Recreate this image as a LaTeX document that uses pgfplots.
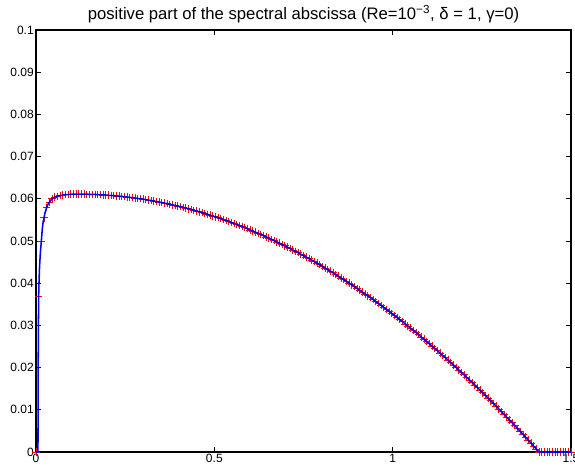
\documentclass[border=0pt]{standalone}
\usepackage{fontspec}
\setmainfont{Liberation Sans}
\usepackage{pgfplots}
\usepackage{pgfplotstable}
\pgfplotsset{compat=1.18}

% red markers near the start (step 0.0075)
\pgfplotstableread{
x y
0 0
0.0075 0.037
0.015 0.050
0.0225 0.0555
0.03 0.058
0.0375 0.0592
0.045 0.0600
0.0525 0.0604
0.06 0.0606
0.0675 0.0608
0.075 0.0609
0.0825 0.0610
0.09 0.0610
0.0975 0.0611
0.105 0.0611
0.1125 0.0611
}\starttab

% blue curve near the start (finer)
\pgfplotstableread{
x y
0 0
0.0055 0
0.006 0.018
0.0065 0.026
0.007 0.032
0.0075 0.037
0.0085 0.0405
0.01 0.044
0.0125 0.0475
0.015 0.050
0.0175 0.0527
0.02 0.0545
0.0225 0.0555
0.025 0.0566
0.03 0.058
0.035 0.0589
0.04 0.0595
0.045 0.0600
0.05 0.0603
0.06 0.0606
0.07 0.0608
0.08 0.0610
0.09 0.0610
0.1 0.0611
0.11 0.0611
0.12 0.0611
}\bluestart

% rest of the curve (step 0.0075)
\pgfplotstableread{
x y
0.12 0.06110
0.1275 0.06110
0.135 0.06109
0.1425 0.06108
0.15 0.06107
0.1575 0.06105
0.165 0.06103
0.1725 0.06100
0.18 0.06097
0.1875 0.06093
0.195 0.06089
0.2025 0.06085
0.21 0.06080
0.2175 0.06075
0.225 0.06070
0.2325 0.06064
0.24 0.06057
0.2475 0.06050
0.255 0.06043
0.2625 0.06035
0.27 0.06027
0.2775 0.06019
0.285 0.06010
0.2925 0.06001
0.3 0.05991
0.3075 0.05981
0.315 0.05970
0.3225 0.05960
0.33 0.05948
0.3375 0.05936
0.345 0.05924
0.3525 0.05912
0.36 0.05899
0.3675 0.05885
0.375 0.05871
0.3825 0.05857
0.39 0.05842
0.3975 0.05827
0.405 0.05812
0.4125 0.05796
0.42 0.05780
0.4275 0.05763
0.435 0.05746
0.4425 0.05728
0.45 0.05710
0.4575 0.05692
0.465 0.05673
0.4725 0.05654
0.48 0.05634
0.4875 0.05614
0.495 0.05594
0.5025 0.05573
0.51 0.05552
0.5175 0.05530
0.525 0.05508
0.5325 0.05486
0.54 0.05463
0.5475 0.05439
0.555 0.05416
0.5625 0.05391
0.57 0.05367
0.5775 0.05342
0.585 0.05316
0.5925 0.05291
0.6 0.05264
0.6075 0.05238
0.615 0.05211
0.6225 0.05183
0.63 0.05155
0.6375 0.05127
0.645 0.05098
0.6525 0.05069
0.66 0.05040
0.6675 0.05010
0.675 0.04980
0.6825 0.04949
0.69 0.04918
0.6975 0.04886
0.705 0.04854
0.7125 0.04822
0.72 0.04789
0.7275 0.04756
0.735 0.04722
0.7425 0.04688
0.75 0.04653
0.7575 0.04619
0.765 0.04583
0.7725 0.04548
0.78 0.04511
0.7875 0.04475
0.795 0.04438
0.8025 0.04400
0.81 0.04363
0.8175 0.04325
0.825 0.04286
0.8325 0.04247
0.84 0.04207
0.8475 0.04168
0.855 0.04127
0.8625 0.04087
0.87 0.04046
0.8775 0.04004
0.885 0.03962
0.8925 0.03920
0.9 0.03877
0.9075 0.03834
0.915 0.03790
0.9225 0.03746
0.93 0.03702
0.9375 0.03657
0.945 0.03612
0.9525 0.03566
0.96 0.03520
0.9675 0.03474
0.975 0.03427
0.9825 0.03380
0.99 0.03332
0.9975 0.03284
1.005 0.03236
1.0125 0.03187
1.02 0.03137
1.0275 0.03088
1.035 0.03037
1.0425 0.02987
1.05 0.02936
1.0575 0.02884
1.065 0.02833
1.0725 0.02780
1.08 0.02728
1.0875 0.02675
1.095 0.02621
1.1025 0.02567
1.11 0.02513
1.1175 0.02458
1.125 0.02403
1.1325 0.02348
1.14 0.02292
1.1475 0.02235
1.155 0.02179
1.1625 0.02121
1.17 0.02064
1.1775 0.02006
1.185 0.01947
1.1925 0.01889
1.2 0.01829
1.2075 0.01770
1.215 0.01710
1.2225 0.01649
1.23 0.01588
1.2375 0.01527
1.245 0.01465
1.2525 0.01403
1.26 0.01340
1.2675 0.01277
1.275 0.01214
1.2825 0.01150
1.29 0.01086
1.2975 0.01022
1.305 0.00956
1.3125 0.00891
1.32 0.00825
1.3275 0.00759
1.335 0.00692
1.3425 0.00625
1.35 0.00558
1.3575 0.00490
1.365 0.00421
1.3725 0.00353
1.38 0.00283
1.3875 0.00214
1.395 0.00144
1.4025 0.00074
1.41 0.00003
1.4175 0
1.425 0
1.4325 0
1.44 0
1.4475 0
1.455 0
1.4625 0
1.47 0
1.4775 0
1.485 0
1.4925 0
1.5 0
}\maintab

\begin{document}
\begin{tikzpicture}
  \begin{axis}[
      width=401.25pt,
      height=316.5pt,
      scale only axis,
      xmin=0, xmax=1.5,
      ymin=0, ymax=0.1,
      xtick={0,0.5,1,1.5},
      ytick={0,0.01,0.02,0.03,0.04,0.05,0.06,0.07,0.08,0.09,0.1},
      tick pos=both,
      tick align=inside,
      major tick length=4pt,
      axis line style={line width=1pt},
      every tick/.style={black, line width=0.5pt},
      /pgf/number format/assume math mode=true,
      /pgf/number format/fixed,
      /pgf/number format/precision=2,
      scaled y ticks=false,
      scaled x ticks=false,
      ticklabel style={font=\fontsize{9}{10}\selectfont},
      yticklabel style={inner sep=1.5pt},
      xticklabel style={inner sep=1.5pt},
      every axis title shift=0pt,
      title={positive part of the spectral abscissa (Re=10\textsuperscript{−3}, δ = 1, γ=0)},
      title style={font=\fontsize{12.5}{14}\selectfont, at={(0.5,1)}, anchor=base, yshift=8pt},
      clip=false,
      clip marker paths=true
    ]
    \addplot[red, only marks, mark=+, mark size=2.8pt, line width=0.5pt] table {\starttab};
    \addplot[red, only marks, mark=+, mark size=2.8pt, line width=0.5pt] table {\maintab};
    \addplot[blue, line width=1.15pt] table {\bluestart};
    \addplot[blue, line width=1.15pt] table {\maintab};
  \end{axis}
  \pgfresetboundingbox
  \path ([shift={(-27pt,-15pt)}]current axis.south west) rectangle ([shift={(3pt,22.5pt)}]current axis.north east);
\end{tikzpicture}
\end{document}
